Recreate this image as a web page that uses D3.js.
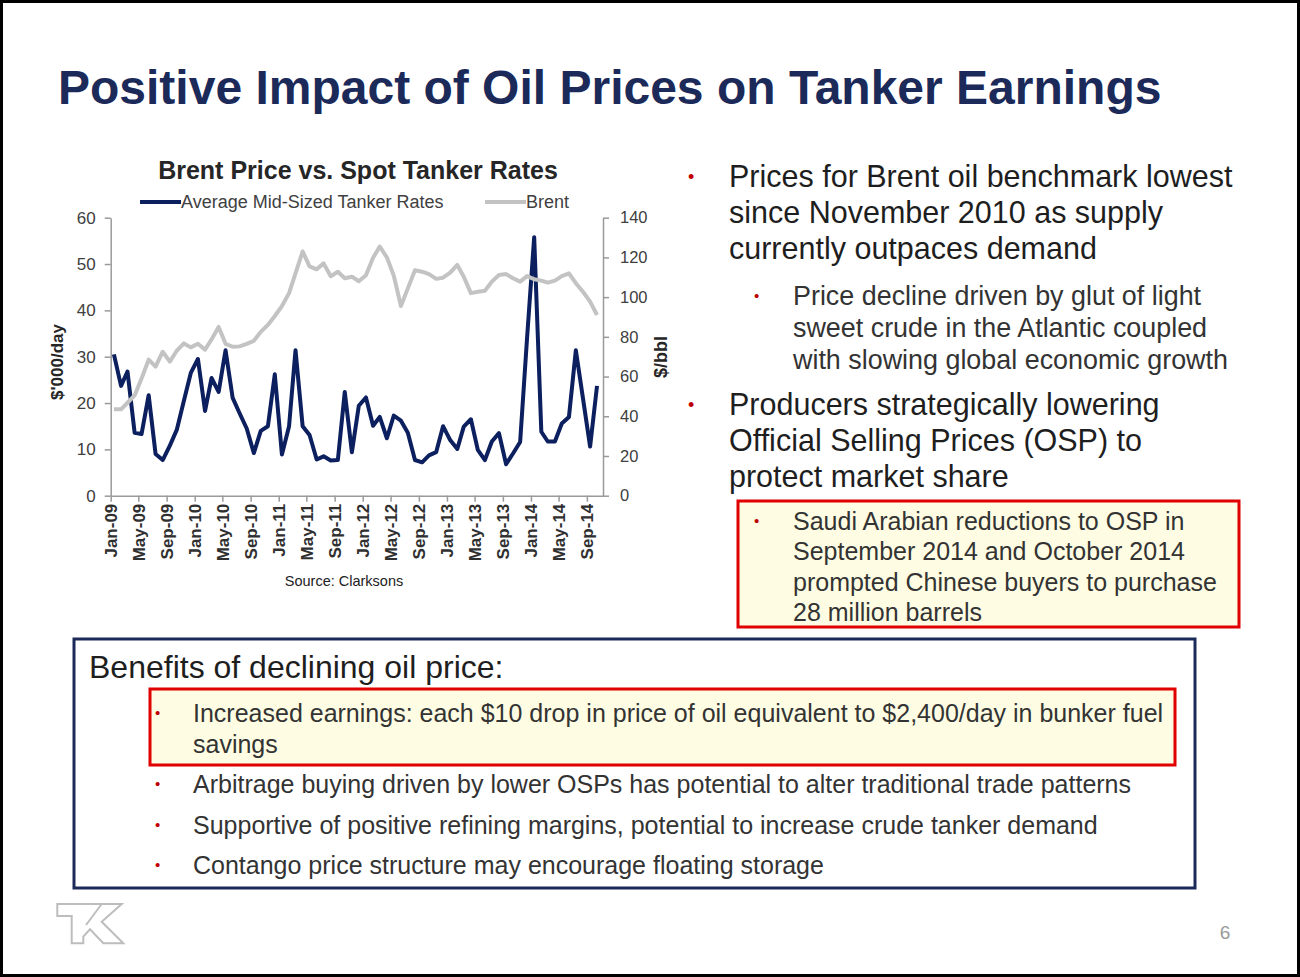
<!DOCTYPE html>
<html><head><meta charset="utf-8">
<script src="https://cdn.jsdelivr.net/npm/d3@7"></script>
<style>
html,body{margin:0;padding:0;background:#fff;}
svg{display:block;font-family:"Liberation Sans",Arial,sans-serif;}
</style></head>
<body>
<svg id="slide" width="1300" height="977"></svg>
<script>
// ---------- DATA ----------
const startYear = 2009;
const tankerRates = [30.5,23.7,26.8,13.6,13.3,21.7,9.0,7.7,10.8,14.2,20.5,26.5,29.5,18.3,25.4,22.4,31.4,21.1,17.8,14.5,
  9.2,14.0,15.0,26.2,8.9,15.0,31.4,15.0,13.1,7.8,8.5,7.6,7.7,22.4,9.4,19.4,21.2,15.1,17.0,12.4,
  17.3,16.2,13.6,7.7,7.2,8.7,9.4,15.0,12.0,10.1,14.9,16.5,9.9,7.7,11.7,13.5,6.8,9.1,11.6,34.0,
  55.8,13.8,11.7,11.7,15.6,17.0,31.4,21.0,10.6,23.7];
const brent = [43.5,43.5,46.8,50.5,59.0,68.5,65.0,72.5,67.5,73.0,76.7,74.7,76.5,73.5,78.7,85.0,76.5,75.0,75.2,76.5,
  78.0,82.5,86.0,90.5,95.5,102.0,112.0,123.0,115.5,114.0,117.0,110.5,112.8,109.5,110.3,108.0,111.0,119.8,125.5,120.0,
  110.8,95.5,104.4,113.5,112.8,111.6,109.2,109.8,112.3,116.2,110.3,102.0,102.7,103.2,107.8,111.1,111.6,109.5,107.8,110.6,
  109.0,108.3,107.3,108.3,110.6,112.0,107.0,102.7,97.7,91.0];
const leftTicks = [0,10,20,30,40,50,60];
const rightTicks = [0,20,40,60,80,100,120,140];
const seriesNames = ["Average Mid-Sized Tanker Rates","Brent"];

const bullets = [
  {level:0, lines:["Prices for Brent oil benchmark lowest","since November 2010 as supply","currently outpaces demand"]},
  {level:1, lines:["Price decline driven by glut of light","sweet crude in the Atlantic coupled","with slowing global economic growth"]},
  {level:0, lines:["Producers strategically lowering","Official Selling Prices (OSP) to","protect market share"]},
  {level:2, lines:["Saudi Arabian reductions to OSP in","September 2014 and October 2014","prompted Chinese buyers to purchase","28 million barrels"]}
];
const benefitsTitle = "Benefits of declining oil price:";
const benefits = [
  {lines:["Increased earnings: each $10 drop in price of oil equivalent to $2,400/day in bunker fuel","savings"], highlight:true},
  {lines:["Arbitrage buying driven by lower OSPs has potential to alter traditional trade patterns"]},
  {lines:["Supportive of positive refining margins, potential to increase crude tanker demand"]},
  {lines:["Contango price structure may encourage floating storage"]}
];

// ---------- DRAW ----------
const svg = d3.select("#slide");
const NAVY = "#1c2a5a", LINE_BLUE = "#0c1f5e", GREY = "#c3c3c3", RED = "#c00000";

svg.append("rect").attr("x",1.5).attr("y",1.5).attr("width",1297).attr("height",974)
  .attr("fill","#fff").attr("stroke","#000").attr("stroke-width",3);

svg.append("text").attr("x",58).attr("y",104).attr("fill",NAVY)
  .attr("font-size",48).attr("font-weight","bold")
  .text("Positive Impact of Oil Prices on Tanker Earnings");

// chart
const dates = tankerRates.map((d,i)=>new Date(startYear, i, 15));
const x = d3.scaleTime().domain([new Date(2009,0,1), new Date(2014,10,10)]).range([110.7, 603]);
const yL = d3.scaleLinear().domain([0,60]).range([495.7, 217.7]);
const yR = d3.scaleLinear().domain([0,140]).range([495.7, 217.7]);

const chart = svg.append("g");
chart.append("text").attr("x",358).attr("y",179).attr("text-anchor","middle")
  .attr("font-size",25).attr("font-weight","bold").attr("fill","#262626")
  .text("Brent Price vs. Spot Tanker Rates");

// legend
const leg = chart.append("g").attr("font-size",18).attr("fill","#404040");
leg.append("line").attr("x1",140).attr("x2",181).attr("y1",202).attr("y2",202).attr("stroke",LINE_BLUE).attr("stroke-width",3.8);
leg.append("text").attr("x",181).attr("y",208).text(seriesNames[0]);
leg.append("line").attr("x1",485).attr("x2",526).attr("y1",202).attr("y2",202).attr("stroke",GREY).attr("stroke-width",3.8);
leg.append("text").attr("x",526).attr("y",208).text(seriesNames[1]);

function styleAxis(g){
  g.selectAll(".domain").attr("stroke","#9a9a9a").attr("stroke-width",1.5);
  g.selectAll(".tick line").attr("stroke","#9a9a9a").attr("stroke-width",1.5);
  g.selectAll(".tick text").attr("fill","#404040").attr("font-family","Liberation Sans, Arial, sans-serif");
}
const gL = chart.append("g").attr("transform","translate(110.7,0)")
  .call(d3.axisLeft(yL).tickValues(leftTicks).tickSize(6).tickSizeOuter(0).tickPadding(9));
gL.selectAll(".tick text").attr("font-size",17);
styleAxis(gL);
const gR = chart.append("g").attr("transform","translate(603,0)")
  .call(d3.axisRight(yR).tickValues(rightTicks).tickSize(6).tickSizeOuter(0).tickPadding(11));
gR.selectAll(".tick text").attr("font-size",16.5);
styleAxis(gR);
const gX = chart.append("g").attr("transform","translate(0,495.7)")
  .call(d3.axisBottom(x).ticks(d3.timeMonth.every(4)).tickFormat(d3.timeFormat("%b-%y")).tickSize(6).tickSizeOuter(0));
gX.selectAll(".tick text").attr("font-size",17).attr("font-weight","bold")
  .attr("transform","rotate(-90)").attr("text-anchor","end").attr("dy","0.35em").attr("x",-8).attr("y",0);
styleAxis(gX);
gX.selectAll(".tick text").attr("fill","#303030");

chart.append("text").attr("transform","translate(63,362) rotate(-90)").attr("text-anchor","middle")
  .attr("font-size",17).attr("font-weight","bold").attr("fill","#262626").text("$'000/day");
chart.append("text").attr("transform","translate(667,357) rotate(-90)").attr("text-anchor","middle")
  .attr("font-size",18).attr("font-weight","bold").attr("fill","#262626").text("$/bbl");
chart.append("text").attr("x",344).attr("y",586).attr("text-anchor","middle")
  .attr("font-size",14.5).attr("fill","#222").text("Source: Clarksons");

chart.append("path").datum(tankerRates)
  .attr("fill","none").attr("stroke",LINE_BLUE).attr("stroke-width",4).attr("stroke-linejoin","round")
  .attr("d", d3.line().x((d,i)=>x(dates[i])).y(d=>yL(d)));
chart.append("path").datum(brent)
  .attr("fill","none").attr("stroke",GREY).attr("stroke-width",4).attr("stroke-linejoin","round")
  .attr("d", d3.line().x((d,i)=>x(dates[i])).y(d=>yR(d)));

// right bullets (layout per level)
const levelStyle = {
  0:{size:30.5, lh:36.2, bx:688, tx:729, bsize:18, fill:"#1e1e1e"},
  1:{size:26.9, lh:32,   bx:754, tx:793, bsize:15, fill:"#333"},
  2:{size:25,   lh:30.4, bx:754, tx:793, bsize:15, fill:"#333"}
};
const blockStart = [187, 305, 415, 530];
const rb = svg.append("g");
rb.append("rect").attr("x",738).attr("y",501).attr("width",501).attr("height",126)
  .attr("fill","#fefde3").attr("stroke","#e00000").attr("stroke-width",3);
bullets.forEach((b,i)=>{
  const s = levelStyle[b.level];
  const y0 = blockStart[i];
  rb.append("text").attr("x",s.bx).attr("y",y0-4).attr("fill",RED).attr("font-size",s.bsize).text("•");
  b.lines.forEach((l,k)=>{
    rb.append("text").attr("x",s.tx).attr("y",y0 + k*s.lh).attr("font-size",s.size).attr("fill",s.fill).text(l);
  });
});

// benefits box
const bb = svg.append("g");
bb.append("rect").attr("x",74).attr("y",639).attr("width",1121).attr("height",249)
  .attr("fill","#fff").attr("stroke",NAVY).attr("stroke-width",3);
bb.append("text").attr("x",89).attr("y",678).attr("font-size",32).attr("fill","#1e1e1e").text(benefitsTitle);
const benefitStart = [722, 793, 834, 874];
benefits.forEach((b,i)=>{
  const by = benefitStart[i];
  if (b.highlight){
    bb.append("rect").attr("x",150).attr("y",689).attr("width",1025).attr("height",76)
      .attr("fill","#fefde3").attr("stroke","#e00000").attr("stroke-width",3);
  }
  bb.append("text").attr("x",155).attr("y",by-4).attr("fill",RED).attr("font-size",15).text("•");
  b.lines.forEach((l,k)=>{
    bb.append("text").attr("x",193).attr("y",by + k*31).attr("font-size",25).attr("fill","#333").text(l);
  });
});

// logo
const logo = svg.append("g").attr("fill","#fff").attr("stroke","#bdbdbd").attr("stroke-width",2).attr("stroke-linejoin","miter");
logo.append("path").attr("d","M57.3,904 L121.7,904 L101.7,921.7 L123.3,943.3 L103.3,943.3 L90,929.3 L83.3,936.7 L83.3,943.3 L71.7,943.3 L71.7,916 L57.3,916 Z");
logo.append("path").attr("d","M86,925 L101.7,904");

svg.append("text").attr("x",1225).attr("y",939).attr("text-anchor","middle").attr("font-size",19).attr("fill","#9a9a9a").text("6");
</script>
</body></html>
